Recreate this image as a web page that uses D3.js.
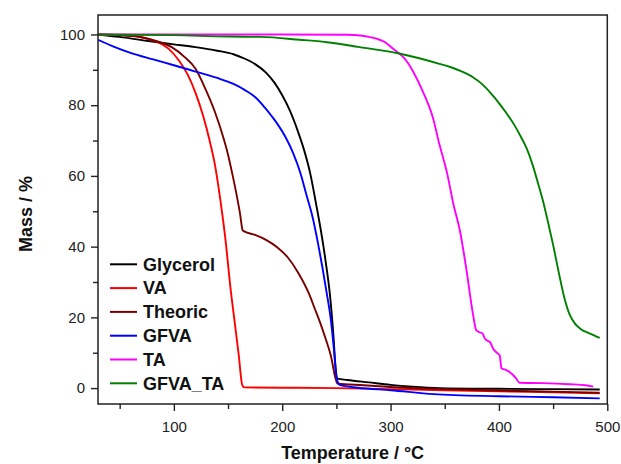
<!DOCTYPE html>
<html><head><meta charset="utf-8">
<script src="https://cdn.jsdelivr.net/npm/d3@7"></script>
<style>
html,body{margin:0;padding:0;background:#fff;}
svg{display:block;font-family:"Liberation Sans",Arial,sans-serif;}
</style></head>
<body>
<svg id="chart" width="621" height="464"></svg>
<script>
// ---- data (temperature °C, mass %) ----
const seriesNames = ["Glycerol", "VA", "Theoric", "GFVA", "TA", "GFVA_TA"];
const seriesColors = ["#000000", "#ff0000", "#7a0000", "#0000ff", "#ff00ff", "#008000"];

const glycerol = [[30,100],[50,99.3],[75,98.2],[100,97.2],[120,96.4],[140,95.4],[155,94.4],[165,93.2],[175,91.6],[185,89.2],[193,86.3],[200,82.8],[207,78.5],[214,73],[220,67.5],[226,60.5],[231,52.5],[236,44],[240,36],[244,26.5],[247,16],[249.5,5],[251,2.7],[260,2.3],[280,1.6],[300,0.9],[320,0.4],[345,0.0],[400,-0.2],[450,-0.3],[493,-0.4]];
const va = [[30,100],[50,99.8],[70,99.2],[85,97.8],[95,96],[105,92.5],[113,88.5],[120,83.5],[127,77],[133,70],[138,63],[143,53],[148,41],[152,29],[156,19],[160,9],[163,1],[165,0.2],[200,0.1],[250,0],[300,-0.3],[350,-0.6],[400,-0.9],[450,-1.2],[493,-1.5]];
const theoric = [[30,100],[50,99.8],[70,99.2],[85,98],[98,96.4],[110,93.6],[120,90.3],[129,84.7],[138,78],[146,70.5],[150,66],[154,60.5],[158,54.5],[161,49.5],[163.5,44.6],[165,44.3],[175,43.3],[185,41.9],[195,39.9],[205,37],[215,32.5],[225,26.5],[230,22.5],[235,18.5],[240,14],[245,9],[249,3],[251,1.3],[275,0.8],[300,0.3],[350,-0.3],[400,-0.7],[450,-1.0],[493,-1.3]];
const gfva = [[30,98.5],[45,96.5],[60,94.8],[80,93],[100,91.3],[120,89.5],[140,87.7],[155,86],[166,84.2],[175,82.3],[184,79.3],[190,77],[196,74.5],[203,71],[210,66.5],[217,60.6],[222,55],[228,48.4],[233,41],[237,34.3],[241,27],[245,19],[248,10],[250,3.2],[253,0.9],[270,0.1],[300,-0.6],[340,-1.7],[400,-2.3],[450,-2.6],[493,-2.9]];
const ta = [[30,100],[100,100],[200,100],[260,99.9],[272,99.7],[280,99.3],[287,98.8],[295,97.8],[302,96],[307,94.8],[312,93.5],[321,89.4],[330,83.7],[339,76.5],[345,69],[352,61],[358,52],[364,44.5],[370,33.5],[376,21],[379,16.4],[382,15.8],[385,15.4],[387,14],[390,13.3],[391.5,13.1],[394.6,11.2],[398,10],[400.7,9.3],[402.3,5.6],[406.9,5.1],[410,4.5],[413,3.7],[416,2.7],[419,1.5],[440,1.4],[465,1.1],[480,0.8],[487,0.4]];
const gfvaTa = [[30,100],[100,99.8],[150,99.4],[180,99.3],[216,98.5],[241,97.8],[270,96.5],[308,94.6],[345,91.7],[355,90.8],[365,89.6],[376,87.9],[385,85.8],[393,83.2],[400,80.6],[407,77.7],[414,74.5],[420,71.2],[426,67.5],[431,63.2],[436,58],[441,52.5],[446,46],[450,40.5],[455,33],[460,26],[465,21],[470,18.3],[475,16.8],[484,15.4],[493,14.2]];
const seriesData = [glycerol, va, theoric, gfva, ta, gfvaTa];

const xMajorTicks = [100, 200, 300, 400, 500];
const xMinorTicks = [50, 150, 250, 350, 450];
const yMajorTicks = [0, 20, 40, 60, 80, 100];
const yMinorTicks = [10, 30, 50, 70, 90];

// ---- layout ----
const svg = d3.select("#chart");
const pLeft = 98, pTop = 15, pRight = 607.3, pBottom = 404;
const x = d3.scaleLinear().domain([30, 500]).range([pLeft, pRight]);
const y = d3.scaleLinear().domain([-4.5, 105.5]).range([pBottom, pTop]);

const defs = svg.append("defs");
defs.append("clipPath").attr("id","plotclip").append("rect")
  .attr("x", pLeft).attr("y", pTop).attr("width", pRight-pLeft).attr("height", pBottom-pTop);

// curves
const line = d3.line().x(d => x(d[0])).y(d => y(d[1])).curve(d3.curveMonotoneX);
const g = svg.append("g").attr("clip-path","url(#plotclip)");
seriesData.forEach((s, i) => {
  g.append("path").datum(s).attr("d", line)
    .attr("fill","none").attr("stroke", seriesColors[i]).attr("stroke-width", 1.9)
    .attr("stroke-linejoin","round");
});

// axes
const axisColor = "#222";
const xAxis = svg.append("g").attr("transform", `translate(0,${pBottom})`)
  .call(d3.axisBottom(x).tickValues(xMajorTicks).tickSize(7).tickPadding(10).tickFormat(d3.format("d")));
const xMinor = svg.append("g").attr("transform", `translate(0,${pBottom})`)
  .call(d3.axisBottom(x).tickValues(xMinorTicks).tickSize(5).tickFormat(""));
const yAxis = svg.append("g").attr("transform", `translate(${pLeft},0)`)
  .call(d3.axisLeft(y).tickValues(yMajorTicks).tickSize(7).tickPadding(6).tickFormat(d3.format("d")));
const yMinor = svg.append("g").attr("transform", `translate(${pLeft},0)`)
  .call(d3.axisLeft(y).tickValues(yMinorTicks).tickSize(5).tickFormat(""));
[xAxis, xMinor, yAxis, yMinor].forEach(a => {
  a.select(".domain").remove();
  a.selectAll(".tick line").attr("stroke", axisColor).attr("stroke-width", 1.4);
  a.selectAll(".tick text").attr("fill", "#222").style("font-size","15px")
    .style("font-family","'Liberation Sans', Arial, sans-serif");
});

// frame
svg.append("rect").attr("x", pLeft).attr("y", pTop).attr("width", pRight-pLeft).attr("height", pBottom-pTop)
  .attr("fill","none").attr("stroke", axisColor).attr("stroke-width", 1.5);

// axis titles
svg.append("text").attr("x", (pLeft+pRight)/2).attr("y", 459).attr("text-anchor","middle")
  .style("font-size","18px").style("font-weight","bold").attr("fill","#111")
  .text("Temperature / °C");
svg.append("text").attr("transform","translate(31.5,214) rotate(-90)").attr("text-anchor","middle")
  .style("font-size","18px").style("font-weight","bold").attr("fill","#111")
  .text("Mass / %");

// legend
const leg = svg.append("g");
seriesNames.forEach((n, i) => {
  const yy = 264.3 + i * 23.8;
  leg.append("line").attr("x1", 110).attr("x2", 137).attr("y1", yy).attr("y2", yy)
    .attr("stroke", seriesColors[i]).attr("stroke-width", 2);
  leg.append("text").attr("x", 143).attr("y", yy).attr("dy","0.35em")
    .style("font-size","18px").style("font-weight","bold").attr("fill","#111").text(n);
});
</script>
</body></html>
